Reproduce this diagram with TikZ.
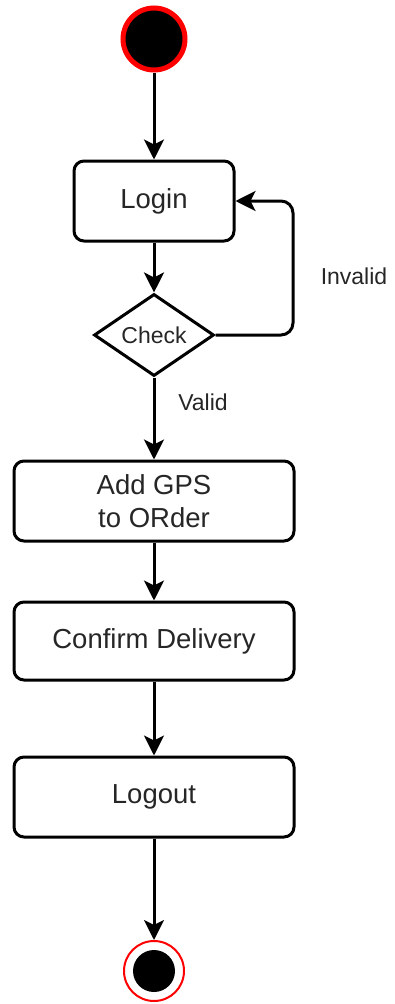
\documentclass[tikz,border=0pt]{standalone}
\usepackage{fontspec}
\setmainfont{Liberation Sans}
\usetikzlibrary{arrows.meta,shapes.geometric}

\tikzset{
  flow/.style={line width=3pt, -{Stealth[length=20pt,width=20pt,inset=5pt]}},
  activity/.style={draw, line width=3pt, rounded corners=10pt, fill=white,
    text=black!85, align=center, inner sep=0pt,
    font=\fontsize{27.5}{33}\selectfont},
  decision/.style={draw, line width=3pt, shape=diamond, fill=white, inner sep=0pt,
    minimum width=120pt, minimum height=78pt, text=black!85,
    font=\fontsize{23}{27}\selectfont},
  guard/.style={text=black!85, inner sep=0pt, font=\fontsize{23}{27}\selectfont},
}

\begin{document}
\begin{tikzpicture}[x=1pt,y=-1pt]
  \useasboundingbox (0,0) rectangle (394,1004);

  % initial state
  \node[circle, draw=red, line width=5pt, fill=black, minimum size=62pt, inner sep=0pt]
    (start) at (154,39) {};

  % activities
  \node[activity, minimum width=160pt, minimum height=80pt] (login) at (154,201) {Login};
  \node[decision] (check) at (154,335) {Check};
  \node[activity, minimum width=280pt, minimum height=80pt] (gps) at (154,501) {Add GPS\\to ORder};
  \node[activity, minimum width=280pt, minimum height=78pt] (confirm) at (154,641) {Confirm Delivery};
  \node[activity, minimum width=280pt, minimum height=80pt] (logout) at (154,797) {Logout};

  % final state
  \node[circle, draw=red, line width=2pt, fill=white, minimum size=60pt, inner sep=0pt]
    (finish) at (154,971) {};
  \node[circle, fill=black, minimum size=42pt, inner sep=0pt] (finishdot) at (finish.center) {};

  % loop-back corner points
  \coordinate (loopa) at (293,335);
  \coordinate (loopb) at (293,201);

  % transitions
  \draw[flow] (start) -- (login);
  \draw[flow] (login) -- (check);
  \draw[flow, rounded corners=12pt] (check.east) -- (loopa) -- (loopb) -- (login.east);
  \draw[flow] (check.south) -- (gps);
  \draw[flow] (gps) -- (confirm);
  \draw[flow] (confirm) -- (logout);
  \draw[flow] (logout) -- (finish);

  % guard labels
  \node[guard] (invalid) at (354,276) {Invalid};
  \node[guard] (valid) at (203,402) {Valid};
\end{tikzpicture}
\end{document}
